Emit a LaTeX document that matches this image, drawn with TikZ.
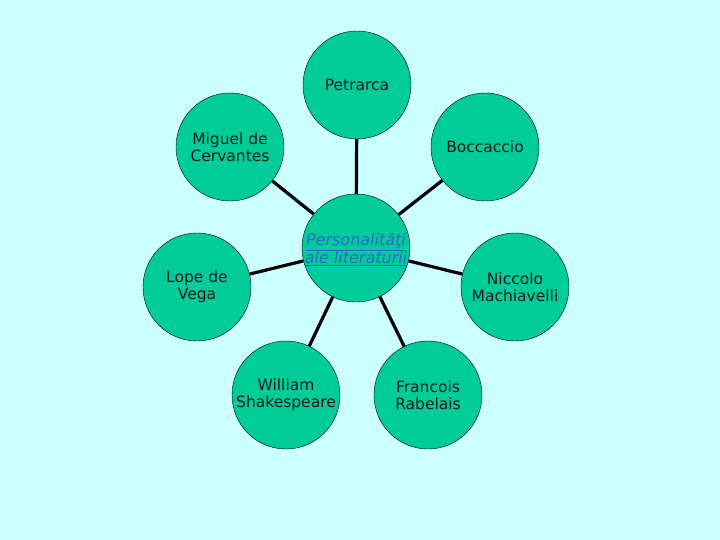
\documentclass[tikz,border=0pt]{standalone}
\usepackage{fontspec}
\setmainfont{DejaVu Sans}
\usepackage{xcolor}
\definecolor{bgcyan}{HTML}{CCFFFF}
\definecolor{discgreen}{HTML}{00CC99}
\definecolor{linkblue}{HTML}{3366CC}

\begin{document}
\begin{tikzpicture}[x=1pt, y=-1pt,
  person/.style={circle, draw=black, thin, fill=discgreen, minimum size=108pt,
    inner sep=0pt, align=center, font=\fontsize{15.5}{17}\selectfont, text=black!90},
  spoke/.style={line width=3.2pt, black}]
\fill[bgcyan] (0,0) rectangle (720,540);
\useasboundingbox (0,0) rectangle (720,540);
\node[person] (C) at (356,248) {};
\node[text=linkblue, align=center, font=\fontsize{16}{18}\selectfont\itshape] (Ct) at (356,250)
  {\underline{Personalităţi}\\\underline{ale literaturii}};
\node[person] (Pe) at (357,85) {Petrarca};
\node[person] (Bo) at (485,147) {Boccaccio};
\node[person] (Ce) at (230,147) {Miguel de\\Cervantes};
\node[person] (Lo) at (197,287) {Lope de\\Vega};
\node[person] (Ma) at (515,287) {Niccolo\\Machiavelli};
\node[person] (Sh) at (286,395) {William\\Shakespeare};
\node[person] (Ra) at (428,395) {Francois\\Rabelais};
\draw[spoke] (C) -- (Pe);
\draw[spoke] (C) -- (Bo);
\draw[spoke] (C) -- (Ce);
\draw[spoke] (C) -- (Lo);
\draw[spoke] (C) -- (Ma);
\draw[spoke] (C) -- (Sh);
\draw[spoke] (C) -- (Ra);
\end{tikzpicture}
\end{document}
